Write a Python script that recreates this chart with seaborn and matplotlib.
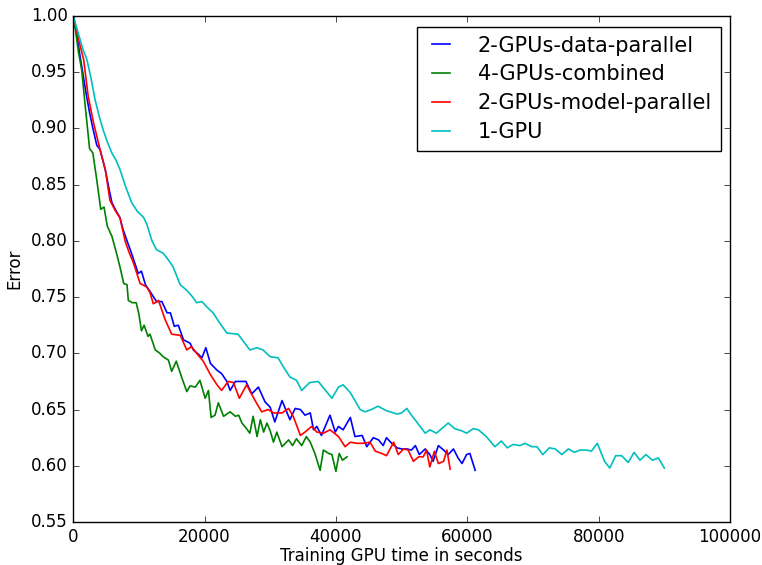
import pandas as pd
import numpy as np
import matplotlib
matplotlib.use("Agg")
import matplotlib.pyplot as plt
import seaborn as sns

#  Data (x in thousands of seconds) 
data_par_x = [0, 0.5, 1, 1.5, 2, 2.5, 3, 3.6, 4.1, 4.5, 4.9, 5.5, 5.9, 6.5, 7.1, 7.6, 8.2, 8.7, 9.4, 9.9,
              10.4, 11, 11.7, 12.7, 13.5, 14.3, 14.8, 15.4, 16, 16.8, 17.8, 18.3, 19.1, 19.6, 20.2, 20.9,
              21.9, 22.6, 23.4, 23.9, 24.7, 25.4, 26.3, 27.2, 28.2, 29.2, 30, 30.7, 31.8, 33, 33.8, 34.6,
              35.3, 36.1, 36.6, 37.1, 37.8, 39.1, 39.9, 40.4, 41.1, 42.2, 42.9, 44, 44.7, 45.7, 46.5, 47.2,
              47.7, 48.5, 49.3, 50, 50.8, 51.5, 52.1, 52.7, 53.6, 54.3, 54.8, 55.6, 56.4, 57.1, 57.9, 58.6,
              59.2, 59.9, 60.4, 61.2]
data_par_y = [1.0, 0.985, 0.966, 0.948, 0.93, 0.914, 0.9, 0.885, 0.881, 0.872, 0.863, 0.845, 0.834, 0.827,
              0.821, 0.81, 0.8, 0.792, 0.78, 0.771, 0.773, 0.761, 0.755, 0.746, 0.746, 0.736, 0.736, 0.724,
              0.725, 0.712, 0.709, 0.703, 0.699, 0.696, 0.705, 0.691, 0.685, 0.682, 0.675, 0.667, 0.675,
              0.675, 0.675, 0.664, 0.67, 0.657, 0.652, 0.639, 0.658, 0.641, 0.651, 0.65, 0.645, 0.647, 0.632,
              0.635, 0.627, 0.645, 0.63, 0.635, 0.632, 0.643, 0.626, 0.627, 0.617, 0.625, 0.623, 0.618, 0.625,
              0.62, 0.616, 0.615, 0.615, 0.614, 0.618, 0.61, 0.615, 0.61, 0.604, 0.618, 0.614, 0.61, 0.615,
              0.607, 0.602, 0.61, 0.611, 0.596]

combined_x = [0, 0.3, 0.8, 1.3, 1.8, 2.5, 3, 3.6, 4.2, 4.7, 5.2, 5.9, 6.6, 7.2, 7.7, 8.2, 8.4, 9.0, 9.6, 10,
              10.4, 10.8, 11.4, 11.7, 12.5, 13.2, 13.7, 14.5, 15, 15.7, 16.5, 17.3, 17.8, 18.6, 19.3, 20.1,
              20.6, 21, 21.6, 22.1, 22.9, 23.9, 24.7, 25.2, 25.7, 26.4, 26.9, 27.4, 28, 28.5, 29, 29.5, 30,
              30.5, 31, 31.8, 32.8, 33.4, 34, 34.8, 35.5, 36.1, 36.8, 37.6, 38.1, 38.9, 39.4, 40, 40.5, 41,
              41.7]
combined_y = [1.0, 0.99, 0.968, 0.952, 0.922, 0.882, 0.878, 0.854, 0.828, 0.83, 0.813, 0.804, 0.789, 0.775,
              0.762, 0.761, 0.747, 0.745, 0.745, 0.735, 0.72, 0.725, 0.715, 0.717, 0.703, 0.7, 0.697, 0.694,
              0.684, 0.693, 0.679, 0.666, 0.671, 0.67, 0.676, 0.66, 0.667, 0.643, 0.645, 0.656, 0.644, 0.648,
              0.644, 0.645, 0.638, 0.633, 0.629, 0.644, 0.626, 0.641, 0.63, 0.638, 0.631, 0.621, 0.63, 0.617,
              0.623, 0.618, 0.624, 0.618, 0.626, 0.621, 0.611, 0.596, 0.614, 0.611, 0.61, 0.595, 0.611, 0.605,
              0.608]

model_par_x = [0, 0.3, 1, 1.6, 2.3, 3.1, 4.1, 4.9, 5.6, 6.4, 7.15, 7.9, 8.5, 9.2, 10.2, 11.2, 11.7, 12.2, 13,
               14, 15, 16.3, 17.3, 18, 18.8, 19.8, 20.9, 21.9, 22.6, 23.6, 24.4, 25.3, 26.4, 27.7, 28.7,
               29.7, 30.5, 31.8, 32.8, 33.5, 34.6, 35.3, 36.3, 37.1, 38.1, 39.1, 40.4, 41.4, 42.2, 43.2,
               44.2, 45.2, 46, 47, 47.7, 48.8, 49.5, 50.3, 51, 51.8, 52.6, 53.3, 53.8, 54.3, 55, 55.6, 56.4,
               56.9, 57.4]
model_par_y = [1.0, 0.993, 0.975, 0.961, 0.928, 0.905, 0.881, 0.863, 0.836, 0.827, 0.82, 0.8, 0.79, 0.78,
               0.762, 0.759, 0.754, 0.744, 0.747, 0.73, 0.717, 0.716, 0.703, 0.706, 0.7, 0.693, 0.681, 0.672,
               0.667, 0.675, 0.674, 0.66, 0.672, 0.658, 0.648, 0.65, 0.647, 0.647, 0.651, 0.644, 0.627, 0.63,
               0.635, 0.63, 0.629, 0.632, 0.626, 0.617, 0.621, 0.62, 0.62, 0.621, 0.613, 0.611, 0.609, 0.621,
               0.61, 0.615, 0.614, 0.604, 0.608, 0.608, 0.614, 0.599, 0.613, 0.602, 0.604, 0.614, 0.597]

one_gpu_x = [0, 0.5, 1, 1.5, 2.1, 2.7, 3.35, 4, 4.6, 5.2, 5.9, 6.5, 7.15, 8, 8.9, 9.8, 10.7, 11.2, 12, 12.7,
             13.7, 14.5, 15.2, 16.3, 17.3, 18.2, 18.8, 19.6, 20.4, 21.3, 22.3, 23.4, 25.1, 26, 26.9, 28,
             28.9, 30, 31.2, 32, 33, 34, 34.8, 36, 37.3, 38.3, 39.4, 40.4, 41.1, 42.2, 43.7, 44.4, 45.4,
             46.4, 47.7, 49.3, 50, 50.8, 51.5, 52.3, 53.6, 54.3, 55.3, 56.3, 57.1, 58.1, 59.2, 59.9, 60.9,
             61.7, 62.9, 64.2, 65.2, 66.1, 67, 68, 68.8, 69.8, 70.6, 71.5, 72.5, 73.4, 74.4, 75.4, 76.3,
             77.2, 78.2, 78.9, 79.8, 80.9, 81.7, 82.6, 83.5, 84.5, 85.4, 86.3, 87.2, 88.2, 89.1, 90]
one_gpu_y = [1.0, 0.99, 0.98, 0.97, 0.961, 0.945, 0.925, 0.91, 0.898, 0.888, 0.878, 0.872, 0.863, 0.848,
             0.834, 0.826, 0.821, 0.815, 0.8, 0.792, 0.789, 0.783, 0.777, 0.761, 0.756, 0.75, 0.745, 0.746,
             0.741, 0.736, 0.727, 0.718, 0.717, 0.71, 0.703, 0.705, 0.703, 0.697, 0.696, 0.688, 0.679, 0.676,
             0.667, 0.674, 0.675, 0.668, 0.66, 0.67, 0.672, 0.665, 0.65, 0.648, 0.65, 0.653, 0.649, 0.646,
             0.647, 0.651, 0.645, 0.639, 0.629, 0.632, 0.629, 0.634, 0.638, 0.633, 0.631, 0.629, 0.633, 0.632,
             0.626, 0.617, 0.622, 0.616, 0.619, 0.618, 0.62, 0.617, 0.617, 0.61, 0.616, 0.615, 0.61, 0.615,
             0.612, 0.614, 0.614, 0.613, 0.62, 0.604, 0.598, 0.609, 0.609, 0.603, 0.612, 0.605, 0.61, 0.605,
             0.607, 0.598]

series_names = ["2-GPUs-data-parallel", "4-GPUs-combined", "2-GPUs-model-parallel", "1-GPU"]
series_colors = ["b", "g", "r", "c"]

#  Long table for seaborn 
frames = []
for name, xs, ys in zip(series_names,
                        [data_par_x, combined_x, model_par_x, one_gpu_x],
                        [data_par_y, combined_y, model_par_y, one_gpu_y]):
    frames.append(pd.DataFrame({"time": np.array(xs) * 1000, "error": ys, "setup": name}))
df = pd.concat(frames, ignore_index=True)

#  Plot 
plt.style.use("classic")
fig, ax = plt.subplots(figsize=(7.62, 5.65), dpi=100)
fig.subplots_adjust(left=0.096, right=0.958, top=0.972, bottom=0.076)

sns.lineplot(data=df, x="time", y="error", hue="setup", hue_order=series_names,
             palette=series_colors, estimator=None, sort=False, linewidth=1.2, ax=ax)

ax.set_xlim(0, 100000)
ax.set_ylim(0.55, 1.0)
ax.set_xticks(range(0, 100001, 20000))
ax.set_yticks(np.arange(0.55, 1.001, 0.05))
ax.set_xlabel("Training GPU time in seconds", fontsize=12, labelpad=1)
ax.set_ylabel("Error", fontsize=12)
ax.tick_params(labelsize=12)

leg = ax.legend(loc="upper left", bbox_to_anchor=(0.5236, 0.978), borderaxespad=0,
                fontsize=15, handlelength=1.44, handletextpad=1.06, borderpad=0.42,
                labelspacing=0.42)
leg.get_frame().set_linewidth(1.0)

fig.savefig("out.png", dpi=100, facecolor="white")
